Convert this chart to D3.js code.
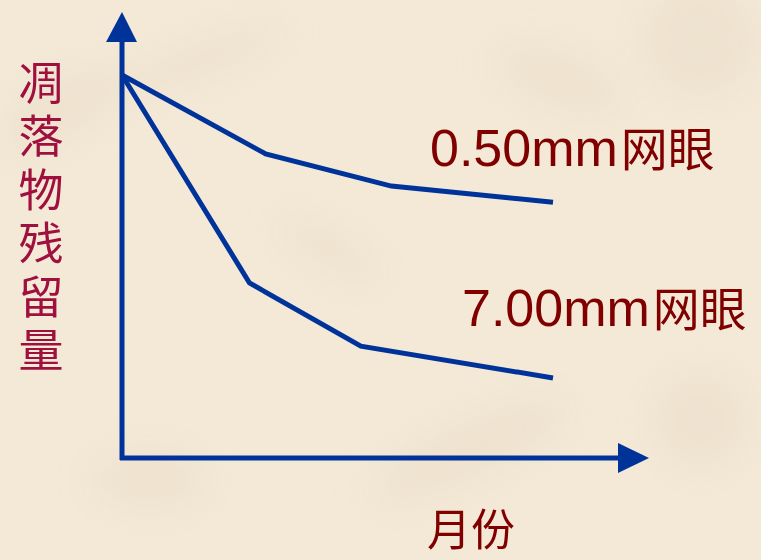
<!DOCTYPE html>
<html><head><meta charset="utf-8">
<script src="https://cdn.jsdelivr.net/npm/d3@7"></script>
<style>html,body{margin:0;padding:0;background:#F4E9D7;}svg{display:block;}</style>
</head><body>
<svg id="c" width="761" height="560"></svg>
<script>
// Data (months, relative residual amount)
const series05Months = [0, 4.0, 7.5, 12];
const series05Values = [100, 79.4, 71.0, 66.8];
const series70Months = [0, 3.55, 6.65, 12];
const series70Values = [100, 45.7, 29.2, 20.9];
const seriesLabelNums = ["0.50mm", "7.00mm"];
const seriesLabelUnit = "网眼";
const yTitle = "凋落物残留量";
const xTitle = "月份";

const W = 761, H = 560;
const svg = d3.select("#c");
const x = d3.scaleLinear().domain([0, 12]).range([122, 553]);
const y = d3.scaleLinear().domain([0, 100]).range([458, 75]);

// background with faint texture
const defs = svg.append("defs");
defs.append("filter").attr("id","blur").append("feGaussianBlur").attr("stdDeviation", 18);
svg.append("rect").attr("width", W).attr("height", H).attr("fill", "#F4E9D7");
const blobs = [[60,110,70,30,-30],[200,60,90,20,-20],[560,80,70,30,20],[700,40,60,60,0],[470,450,110,30,-25],[330,250,60,20,30],[700,420,50,50,0],[150,480,60,30,0]];
svg.append("g").attr("filter","url(#blur)").selectAll("ellipse").data(blobs).join("ellipse")
  .attr("cx", d=>d[0]).attr("cy", d=>d[1]).attr("rx", d=>d[2]).attr("ry", d=>d[3])
  .attr("transform", d=>`rotate(${d[4]},${d[0]},${d[1]})`)
  .attr("fill", "#E6D9C4").attr("opacity", 0.4);

const blue = "#003399";
const x0 = x(0), y0 = y(0);
// axes
svg.append("line").attr("x1", x0).attr("y1", y0 + 2).attr("x2", x0).attr("y2", 40)
  .attr("stroke", blue).attr("stroke-width", 5);
svg.append("path").attr("d", `M${x0},12 L${x0-16},42 L${x0+15},42 Z`).attr("fill", blue);
svg.append("line").attr("x1", x0 - 2).attr("y1", y0).attr("x2", 620).attr("y2", y0)
  .attr("stroke", blue).attr("stroke-width", 5);
svg.append("path").attr("d", `M649,${y0} L618,${y0-15} L618,${y0+15} Z`).attr("fill", blue);

const line = d3.line().x(d=>x(d[0])).y(d=>y(d[1]));
[[series05Months, series05Values],[series70Months, series70Values]].forEach(([m, v]) => {
  svg.append("path").attr("d", line(m.map((mm,i)=>[mm, v[i]])))
    .attr("fill","none").attr("stroke", blue).attr("stroke-width", 5)
    .attr("stroke-linejoin","miter");
});

const latin = "Arial, 'Liberation Sans', sans-serif";
const labelPos = [[430,166],[462,326]];
seriesLabelNums.forEach((t,i)=>{
  const tx = svg.append("text").attr("x", labelPos[i][0]).attr("y", labelPos[i][1])
    .attr("fill", "#800000");
  tx.append("tspan").attr("font-family", latin).attr("font-size", 52).text(t);
  tx.append("tspan").attr("dx", 3).attr("font-family", "'Noto Sans CJK SC', sans-serif")
    .attr("font-size", 47).text(seriesLabelUnit);
});

// y title vertical
svg.append("text").attr("x", 41).attr("y", 60)
  .attr("writing-mode", "vertical-rl").attr("letter-spacing", 8.5)
  .attr("font-family", "'Noto Sans CJK SC', serif").attr("font-size", 45)
  .attr("fill", "#A0103F").text(yTitle);

svg.append("text").attr("x", 471).attr("y", 546).attr("text-anchor","middle")
  .attr("font-family", "'Noto Sans CJK SC', serif").attr("font-size", 44)
  .attr("fill", "#800000").text(xTitle);
</script>
</body></html>
